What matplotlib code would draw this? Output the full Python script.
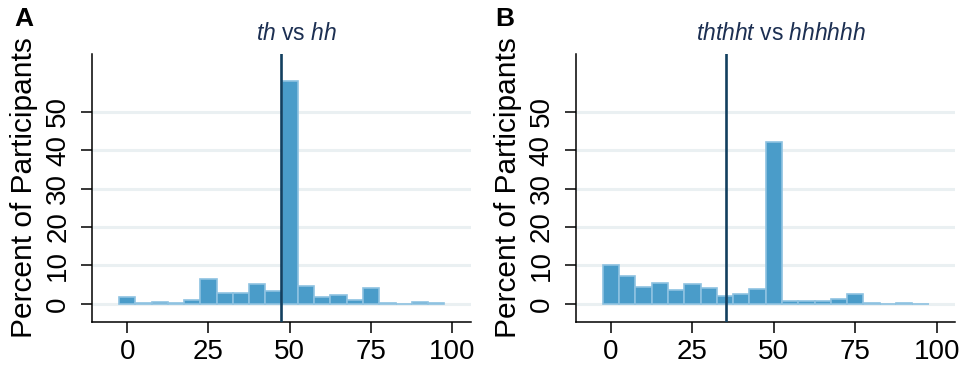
import matplotlib
matplotlib.use("Agg")
import matplotlib.pyplot as plt

plt.rcParams['font.family'] = ['Liberation Sans', 'DejaVu Sans']
plt.rcParams['mathtext.fontset'] = 'custom'
plt.rcParams['mathtext.rm'] = 'Liberation Sans'
plt.rcParams['mathtext.it'] = 'Liberation Sans:italic'

bin_centers = [0, 5, 10, 15, 20, 25, 30, 35, 40, 45, 50, 55, 60, 65, 70, 75, 80, 85, 90, 95]
pct_a = [1.8, 0.3, 0.5, 0.3, 1.1, 6.5, 2.8, 2.8, 5.2, 3.4, 57.9, 4.7, 1.9, 2.4, 0.9, 4.2, 0.2, 0.0, 0.5, 0.3]
pct_b = [10.0, 7.2, 4.3, 5.4, 3.5, 5.2, 4.1, 2.0, 2.5, 3.8, 42.2, 0.8, 0.7, 0.7, 1.3, 2.6, 0.2, 0.0, 0.3, 0.0]
line_a = 47.3
line_b = 35.4
x_ticks = [0, 25, 50, 75, 100]
y_ticks = [0, 10, 20, 30, 40, 50]
titles = [r'$\mathit{th}$ vs $\mathit{hh}$', r'$\mathit{ththht}$ vs $\mathit{hhhhhh}$']
panel_labels = ['A', 'B']

fig = plt.figure(figsize=(9.63, 3.70), dpi=100)
W, H = 963, 370
axes_px = [(92, 470.7), (575.7, 955)]
title_x = [297, 781]
label_x = [24, 505]
data = [pct_a, pct_b]
lines = [line_a, line_b]

for i in range(2):
    l, r = axes_px[i]
    ax = fig.add_axes([l / W, (H - 322) / H, (r - l) / W, (322 - 54) / H])
    for yt in y_ticks:
        ax.axhline(yt, color='#eaf0f2', lw=2.2, zorder=0)
    ax.bar(bin_centers, data[i], width=5, color='#4a9cc9', edgecolor='#8ec2e1',
           linewidth=1.2, zorder=2)
    ax.axvline(lines[i], color='#123f5f', lw=1.9, zorder=3)
    ax.set_xlim(-10.8, 105.6)
    ax.set_ylim(-4.7, 65.0)
    ax.set_xticks(x_ticks)
    ax.set_yticks(y_ticks)
    ax.set_yticklabels([str(v) for v in y_ticks], rotation=90, va='center')
    ax.tick_params(axis='both', direction='out', length=8, width=1.1, labelsize=20,
                   colors='black')
    ax.tick_params(axis='x', pad=4)
    ax.tick_params(axis='y', pad=7)
    for s in ['top', 'right']:
        ax.spines[s].set_visible(False)
    for s in ['left', 'bottom']:
        ax.spines[s].set_linewidth(1.1)
    ax.set_ylabel('Percent of Participants', fontsize=21.5, labelpad=5)
    fig.text(title_x[i] / W, 1 - 33 / H, titles[i], ha='center', va='center',
             fontsize=16.5, color='#1c2f52')
    fig.text(label_x[i] / W, 1 - 19 / H, panel_labels[i], ha='center', va='center',
             fontsize=19, fontweight='bold')

fig.savefig('out.png', dpi=100)
